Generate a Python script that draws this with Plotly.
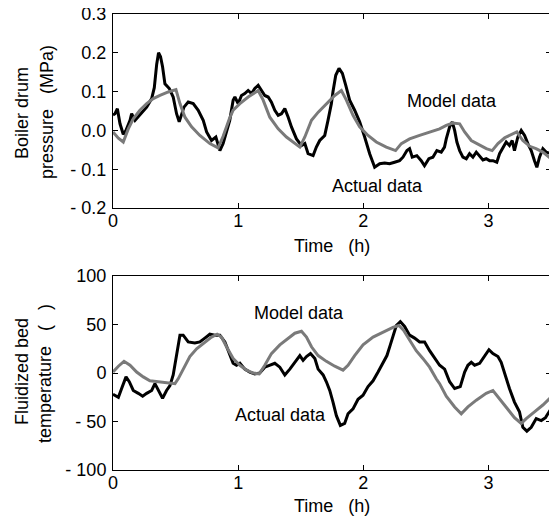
import plotly.graph_objs as go

# top panel: boiler drum pressure (MPa) vs time (h)
p_time_actual = [0.0, 0.016, 0.035, 0.056, 0.082, 0.104, 0.136, 0.149, 0.176, 0.215, 0.269, 0.309, 0.33, 0.349,
                 0.364, 0.38, 0.396, 0.415, 0.45, 0.481, 0.508, 0.529, 0.548, 0.567, 0.601, 0.641, 0.681, 0.721,
                 0.748, 0.787, 0.822, 0.854, 0.88, 0.907, 0.933, 0.96, 0.974, 1.0, 1.027, 1.053, 1.08, 1.107,
                 1.133, 1.16, 1.186, 1.213, 1.24, 1.266, 1.293, 1.32, 1.346, 1.373, 1.4, 1.426, 1.466, 1.506,
                 1.533, 1.559, 1.599, 1.625, 1.652, 1.692, 1.718, 1.745, 1.758, 1.78, 1.806, 1.833, 1.86, 1.891,
                 1.931, 1.971, 2.011, 2.051, 2.091, 2.131, 2.171, 2.21, 2.25, 2.29, 2.317, 2.349, 2.37, 2.391,
                 2.428, 2.463, 2.489, 2.524, 2.556, 2.588, 2.623, 2.649, 2.663, 2.69, 2.711, 2.73, 2.748, 2.77,
                 2.796, 2.823, 2.849, 2.876, 2.903, 2.929, 2.956, 2.982, 3.009, 3.036, 3.067, 3.089, 3.116, 3.142,
                 3.168, 3.19, 3.208, 3.235, 3.262, 3.289, 3.315, 3.342, 3.368, 3.387, 3.408, 3.435, 3.461, 3.5]
p_actual = [0.04, 0.043, 0.056, 0.017, -0.01, 0.0, 0.026, 0.043, 0.026, 0.04, 0.06, 0.082, 0.11, 0.17,
            0.2, 0.19, 0.164, 0.12, 0.108, 0.086, 0.043, 0.022, 0.043, 0.06, 0.073, 0.069, 0.052, 0.026,
            -0.004, -0.026, -0.017, -0.052, -0.034, 0.0, 0.026, 0.078, 0.086, 0.069, 0.09, 0.095, 0.103, 0.095,
            0.108, 0.116, 0.103, 0.09, 0.086, 0.073, 0.052, 0.039, 0.043, 0.056, 0.034, 0.009, -0.022, -0.039,
            -0.034, -0.06, -0.065, -0.043, -0.026, -0.013, 0.026, 0.069, 0.1, 0.142, 0.16, 0.147, 0.116, 0.078,
            0.052, 0.022, -0.017, -0.06, -0.095, -0.086, -0.084, -0.086, -0.082, -0.078, -0.069, -0.052, -0.047, -0.069,
            -0.065, -0.078, -0.091, -0.073, -0.069, -0.052, -0.056, -0.043, -0.022, 0.009, 0.022, 0.0, -0.03, -0.052,
            -0.069, -0.073, -0.06, -0.069, -0.056, -0.065, -0.076, -0.073, -0.078, -0.078, -0.082, -0.06, -0.043, -0.03,
            -0.039, -0.026, -0.052, -0.017, 0.0, -0.013, -0.034, -0.052, -0.078, -0.095, -0.069, -0.047, -0.056, -0.06]

p_time_model = [0.0, 0.043, 0.082, 0.122, 0.162, 0.215, 0.269, 0.322, 0.375, 0.442, 0.503, 0.535, 0.575, 0.628,
                0.694, 0.774, 0.84, 0.88, 0.93, 0.96, 1.014, 1.08, 1.16, 1.2, 1.253, 1.32, 1.386, 1.453, 1.493,
                1.533, 1.586, 1.64, 1.705, 1.772, 1.825, 1.865, 1.918, 1.971, 2.038, 2.104, 2.184, 2.258, 2.304,
                2.37, 2.45, 2.53, 2.61, 2.663, 2.716, 2.77, 2.81, 2.863, 2.93, 2.983, 3.03, 3.076, 3.13, 3.182,
                3.227, 3.275, 3.33, 3.38, 3.435, 3.5]
p_model = [-0.004, -0.02, -0.03, 0.004, 0.03, 0.052, 0.069, 0.082, 0.09, 0.099, 0.105, 0.069, 0.034, 0.009,
           -0.013, -0.034, -0.045, -0.015, 0.03, 0.052, 0.069, 0.086, 0.103, 0.078, 0.034, 0.004, -0.017, -0.034, -0.043,
           -0.017, 0.026, 0.047, 0.069, 0.09, 0.103, 0.078, 0.039, 0.009, -0.013, -0.03, -0.043, -0.052, -0.034,
           -0.022, -0.013, -0.004, 0.004, 0.013, 0.019, 0.017, -0.004, -0.026, -0.039, -0.047, -0.052, -0.034, -0.019, -0.01,
           -0.004, -0.026, -0.041, -0.047, -0.056, -0.073]

# bottom panel: fluidized bed temperature vs time (h)
t_time_actual = [0.0, 0.016, 0.043, 0.069, 0.104, 0.13, 0.162, 0.202, 0.237, 0.269, 0.309, 0.335, 0.362, 0.396,
                 0.428, 0.455, 0.481, 0.508, 0.535, 0.561, 0.601, 0.654, 0.694, 0.734, 0.774, 0.814, 0.854, 0.894,
                 0.933, 0.96, 0.987, 1.014, 1.053, 1.093, 1.133, 1.173, 1.213, 1.253, 1.293, 1.333, 1.373, 1.413,
                 1.453, 1.493, 1.519, 1.546, 1.578, 1.613, 1.639, 1.679, 1.705, 1.732, 1.758, 1.785, 1.817, 1.851,
                 1.878, 1.918, 1.958, 1.998, 2.038, 2.078, 2.118, 2.157, 2.189, 2.216, 2.237, 2.264, 2.296, 2.33,
                 2.37, 2.41, 2.45, 2.49, 2.53, 2.57, 2.61, 2.65, 2.69, 2.73, 2.775, 2.81, 2.836, 2.863, 2.89, 2.93,
                 2.97, 3.004, 3.036, 3.076, 3.102, 3.129, 3.168, 3.208, 3.248, 3.275, 3.307, 3.342, 3.382, 3.422,
                 3.456, 3.5]
t_actual = [-22, -23, -25, -16, -4, -9, -18, -21, -24, -21, -18, -11, -18, -26,
            -18, -13, -2, 18, 39, 39, 32, 31, 32, 36, 40, 39, 39, 32,
            20, 10, 8, 10, 4, 1, -1, 0, 6, 8, 10, 6, -2, 4,
            11, 18, 13, 17, 20, 15, 4, -2, -9, -18, -30, -44, -54, -52,
            -42, -37, -27, -23, -14, -8, 1, 10, 18, 29, 39, 49, 53, 48,
            39, 36, 32, 32, 23, 15, 8, 4, -9, -16, -14, 1, 8, 11, 8, 10,
            18, 24, 20, 17, 11, -1, -16, -30, -40, -56, -60, -56, -47, -49,
            -46, -37]

t_time_model = [0.0, 0.043, 0.088, 0.136, 0.189, 0.242, 0.295, 0.349, 0.402, 0.455, 0.495, 0.521, 0.561, 0.614,
                0.668, 0.734, 0.787, 0.832, 0.867, 0.907, 0.96, 1.014, 1.067, 1.12, 1.168, 1.213, 1.266, 1.333,
                1.4, 1.453, 1.506, 1.546, 1.586, 1.639, 1.705, 1.772, 1.838, 1.878, 1.931, 1.998, 2.078, 2.157,
                2.237, 2.285, 2.322, 2.37, 2.423, 2.476, 2.53, 2.583, 2.61, 2.663, 2.73, 2.783, 2.836, 2.903,
                2.982, 3.036, 3.089, 3.142, 3.208, 3.262, 3.302, 3.368, 3.435, 3.5]
t_model = [1, 7, 12, 8, 1, -4, -8, -9, -10, -11, -11, -6, 4, 17,
           25, 32, 37, 40, 37, 27, 15, 8, 3, 0, -1, 8, 20, 29,
           36, 41, 43, 37, 27, 18, 12, 7, 3, 8, 18, 29, 37, 42,
           47, 49, 44, 34, 23, 15, 6, -6, -11, -24, -35, -42, -35, -28,
           -21, -18, -27, -35, -46, -52, -47, -40, -33, -25]

x_ticks = [0, 1, 2, 3]
p_ticks = [-0.2, -0.1, 0.0, 0.1, 0.2, 0.3]
p_ticktext = ['- 0.2', '- 0.1', '0.0', '0.1', '0.2', '0.3']
t_ticks = [-100, -50, 0, 50, 100]
t_ticktext = ['- 100', '- 50', '0', '50', '100']

FONT = 'Liberation Sans, Arial, sans-serif'
BLACK = '#000000'
GREY = '#7a7a7a'
sp = '\u00a0'

# the page body adds an 8px margin, so the figure is drawn 8px smaller
W, H, OFF = 549, 511, 8


def px(x):
    return (x - OFF) / W


def py(y):
    return 1 - (y - OFF) / H


traces = [
    go.Scatter(x=p_time_actual, y=p_actual, mode='lines', line=dict(color=BLACK, width=3),
               xaxis='x', yaxis='y'),
    go.Scatter(x=p_time_model, y=p_model, mode='lines', line=dict(color=GREY, width=3),
               xaxis='x', yaxis='y'),
    go.Scatter(x=t_time_actual, y=t_actual, mode='lines', line=dict(color=BLACK, width=3),
               xaxis='x2', yaxis='y2'),
    go.Scatter(x=t_time_model, y=t_model, mode='lines', line=dict(color=GREY, width=3),
               xaxis='x2', yaxis='y2'),
]

axis_common = dict(showline=True, linecolor='black', linewidth=1, mirror='ticks', ticks='inside',
                   ticklen=5, tickcolor='black', showgrid=False, zeroline=False, automargin=False,
                   ticklabeloverflow='allow',
                   tickfont=dict(family=FONT, size=18, color='black'))

x_dom = [px(113), px(551)]

fig = go.Figure(data=traces)
fig.update_layout(
    width=W, height=H,
    margin=dict(l=0, r=0, t=0, b=0),
    paper_bgcolor='white', plot_bgcolor='white',
    showlegend=False,
    font=dict(family=FONT, size=18, color='black'),
    xaxis=dict(domain=x_dom, range=[0, 3.5], tickvals=x_ticks, anchor='y',
               ticklabelstandoff=-4, **axis_common),
    yaxis=dict(domain=[py(208), py(14)], range=[-0.2, 0.3], tickvals=p_ticks,
               ticktext=p_ticktext, anchor='x', ticklabelstandoff=2, **axis_common),
    xaxis2=dict(domain=x_dom, range=[0, 3.5], tickvals=x_ticks, anchor='y2',
                ticklabelstandoff=-4, **axis_common),
    yaxis2=dict(domain=[py(470), py(276)], range=[-100, 100], tickvals=t_ticks,
                ticktext=t_ticktext, anchor='x2', ticklabelstandoff=2, **axis_common),
)

notes = [
    dict(x=2.71, y=0.075, xref='x', yref='y', text='Model data'),
    dict(x=2.11, y=-0.143, xref='x', yref='y', text='Actual data'),
    dict(x=1.49, y=62, xref='x2', yref='y2', text='Model data'),
    dict(x=1.337, y=-43, xref='x2', yref='y2', text='Actual data'),
    dict(x=px(22), y=py(113), xref='paper', yref='paper', textangle=-90, text='Boiler drum'),
    dict(x=px(47), y=py(112), xref='paper', yref='paper', textangle=-90,
         text='pressure' + sp * 3 + '(MPa)'),
    dict(x=px(22), y=py(372), xref='paper', yref='paper', textangle=-90, text='Fluidized bed'),
    dict(x=px(45), y=py(374), xref='paper', yref='paper', textangle=-90,
         text='temperature' + sp * 3 + '(' + sp * 3 + ')'),
    dict(x=px(332), y=py(246), xref='paper', yref='paper', text='Time' + sp * 3 + '(h)'),
    dict(x=px(332), y=py(506), xref='paper', yref='paper', text='Time' + sp * 3 + '(h)'),
]
for n in notes:
    fig.add_annotation(showarrow=False, xanchor='center', yanchor='middle',
                       font=dict(family=FONT, size=18, color='black'), **n)

fig.write_html("out.html")
